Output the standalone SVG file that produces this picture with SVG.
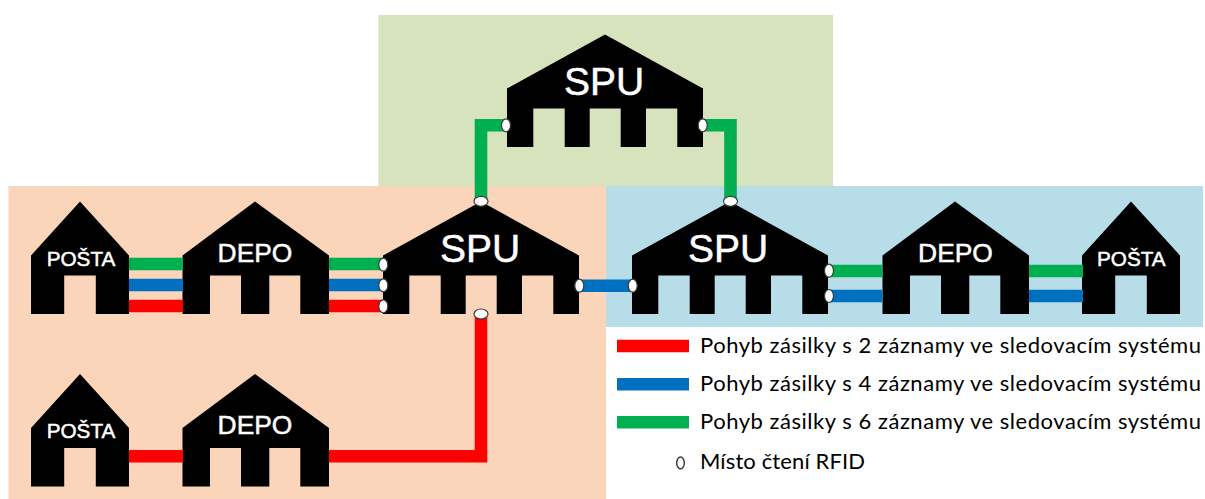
<svg xmlns="http://www.w3.org/2000/svg" width="1205" height="499" viewBox="0 0 1205 499">
<style>
.house{fill:#000}
.lbl{fill:#fff;stroke:#fff;stroke-width:.5;font-family:"Liberation Sans",Arial,sans-serif;text-anchor:middle}
.spu{font-size:39px}
.depo{font-size:26.4px}
.posta{font-size:20.7px}
.c{fill:none;stroke-width:12.6;stroke-linejoin:miter}
.r{stroke:#f00}.b{stroke:#0070c0}.g{stroke:#00b050}
.rfid{fill:#fff;stroke:#3a3a3a;stroke-width:1.2}
.leg{fill:#000;font-family:Lato,"Open Sans",sans-serif;font-size:22px}
</style>
<defs>
<path id="shape-posta" class="house" d="M0 0L49 54V112.5H15.8V74H-15.8V112.5H-49V54Z"/>
<path id="shape-depo" class="house" d="M0 0L74 54V112.5H45.3V74H14.3V112.5H-14V74H-45V112.5H-72.5V54Z"/>
<path id="shape-spu" class="house" d="M0 0L98 54V112.5H72.3V74H41V112.5H15.7V74H-15.3V112.5H-40.3V74H-71.7V112.5H-98V54Z"/>
</defs>
<g id="panels">
<rect x="378.5" y="15" width="454.5" height="171.5" fill="#d7e3bc"/>
<rect x="8.5" y="186" width="597.5" height="313" fill="#fbd5b9"/>
<rect x="606" y="186" width="597" height="141" fill="#b7dde8"/>
</g>
<g id="spu-top"><use href="#shape-spu" x="605" y="34.5"/><text class="lbl spu" x="604" y="95">SPU</text></g>
<g id="spu-left"><use href="#shape-spu" x="481" y="201.5"/><text class="lbl spu" x="480" y="262.3">SPU</text></g>
<g id="spu-right"><use href="#shape-spu" x="730" y="201.5"/><text class="lbl spu" x="728" y="262.3">SPU</text></g>
<g id="posta-left"><use href="#shape-posta" x="80" y="201.5"/><text class="lbl posta" x="81" y="266">POŠTA</text></g>
<g id="depo-left"><use href="#shape-depo" x="255" y="201.5"/><text class="lbl depo" x="255" y="262">DEPO</text></g>
<g id="posta-bottom"><use href="#shape-posta" x="80" y="374"/><text class="lbl posta" x="81" y="438">POŠTA</text></g>
<g id="depo-bottom"><use href="#shape-depo" x="255" y="374"/><text class="lbl depo" x="255" y="434.3">DEPO</text></g>
<g id="depo-right"><use href="#shape-depo" x="955" y="201.5"/><text class="lbl depo" x="955.5" y="261.7">DEPO</text></g>
<g id="posta-right"><use href="#shape-posta" x="1131" y="201.5"/><text class="lbl posta" x="1131.3" y="266">POŠTA</text></g>
<g id="connectors">
<path class="c g" d="M129 264H183M329 264H383"/>
<path class="c b" d="M129 285H183M329 285H383"/>
<path class="c r" d="M129 306H183M329 306H383"/>
<path class="c r" d="M129 456.3H183M329 456.3H481V314"/>
<path class="c g" d="M506 125.3H481V201M703 125.3H730.5V201"/>
<path class="c b" d="M579 285.7H632"/>
<path class="c g" d="M828 271H882M1029 271H1083"/>
<path class="c b" d="M828 296H882M1029 296H1083"/>
</g>
<g id="rfid-points">
<ellipse class="rfid" cx="383.3" cy="264.7" rx="4.5" ry="6.5"/>
<ellipse class="rfid" cx="383.3" cy="285.3" rx="4.5" ry="6.5"/>
<ellipse class="rfid" cx="383.3" cy="306.3" rx="4.5" ry="6.5"/>
<ellipse class="rfid" cx="506" cy="125.3" rx="4.5" ry="6.5"/>
<ellipse class="rfid" cx="702.7" cy="125.3" rx="4.5" ry="6.5"/>
<ellipse class="rfid" cx="481" cy="201.3" rx="7" ry="5"/>
<ellipse class="rfid" cx="730.5" cy="201.3" rx="7" ry="5"/>
<ellipse class="rfid" cx="481" cy="314" rx="7" ry="5"/>
<ellipse class="rfid" cx="579.3" cy="285.7" rx="4.5" ry="6.5"/>
<ellipse class="rfid" cx="632.7" cy="285.7" rx="4.5" ry="6.5"/>
<ellipse class="rfid" cx="829" cy="270.7" rx="4.5" ry="6.5"/>
<ellipse class="rfid" cx="829" cy="296" rx="4.5" ry="6.5"/>
</g>
<g id="legend">
<path class="c r" d="M617 346H689"/>
<path class="c b" d="M617 384.3H689"/>
<path class="c g" d="M617 422.3H689"/>
<ellipse cx="680.5" cy="463" rx="3.8" ry="6" fill="#fff" stroke="#333" stroke-width="1.4"/>
<text class="leg" x="700" y="352.5" textLength="501" lengthAdjust="spacing">Pohyb zásilky s 2 záznamy ve sledovacím systému</text>
<text class="leg" x="700" y="391" textLength="501" lengthAdjust="spacing">Pohyb zásilky s 4 záznamy ve sledovacím systému</text>
<text class="leg" x="700" y="429" textLength="501" lengthAdjust="spacing">Pohyb zásilky s 6 záznamy ve sledovacím systému</text>
<text class="leg" x="700" y="469" textLength="165" lengthAdjust="spacing">Místo čtení RFID</text>
</g>
</svg>
